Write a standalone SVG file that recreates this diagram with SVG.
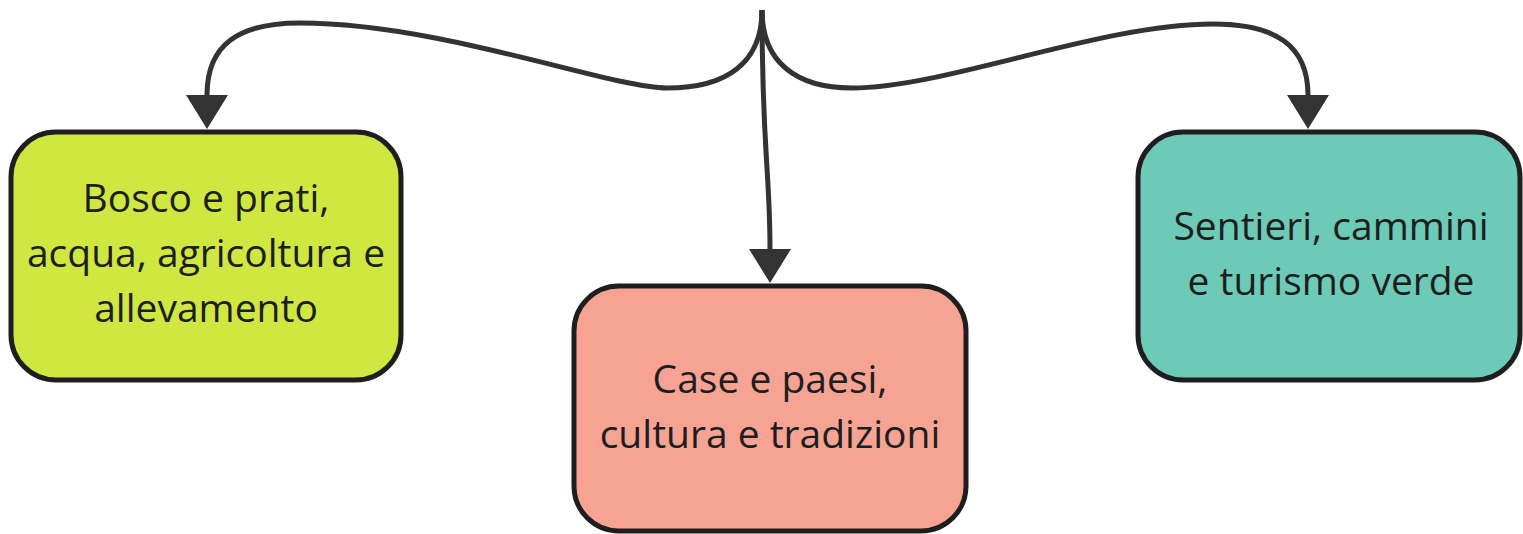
<svg xmlns="http://www.w3.org/2000/svg" width="1523" height="534" viewBox="0 0 1523 534">
<style>
.box{stroke:#1e1e1e;stroke-width:5}
.lbl{font-family:"Open Sans","Noto Sans",sans-serif;font-size:39px;fill:#1e1e1e;text-anchor:middle}
.edge{fill:none;stroke:#333;stroke-width:5}
</style>
<defs>
<marker id="arr" markerUnits="userSpaceOnUse" markerWidth="36" markerHeight="44" refX="0" refY="21" orient="auto" viewBox="0 0 36 44">
<path d="M0,0 L34,21 L0,42 z" fill="#333"/>
</marker>
</defs>
<g id="connectors">
<path class="edge" marker-end="url(#arr)" d="M762,10 C762,62 728,88 667,88 C610,88 440,23 300,23 C238,23 207,45 207,95"/>
<path class="edge" marker-end="url(#arr)" d="M762,10 C762,150 770,170 770,249"/>
<path class="edge" marker-end="url(#arr)" d="M762,10 C762,62 796,88 852,88 C945,88 1100,24 1213,24 C1275,24 1308,45 1308,95"/>
</g>
<g id="node-bosco">
<rect class="box" x="11" y="132" width="390" height="248" rx="45" fill="#cfe741"/>
<text class="lbl" x="206" y="212">Bosco e prati,</text>
<text class="lbl" x="206" y="267">acqua, agricoltura e</text>
<text class="lbl" x="206" y="322">allevamento</text>
</g>
<g id="node-case">
<rect class="box" x="574" y="286" width="392" height="245" rx="45" fill="#f6a394"/>
<text class="lbl" x="770" y="393">Case e paesi,</text>
<text class="lbl" x="770" y="448">cultura e tradizioni</text>
</g>
<g id="node-sentieri">
<rect class="box" x="1138" y="132" width="382" height="248" rx="45" fill="#6ccab7"/>
<text class="lbl" x="1331" y="240">Sentieri, cammini</text>
<text class="lbl" x="1331" y="295">e turismo verde</text>
</g>
</svg>
